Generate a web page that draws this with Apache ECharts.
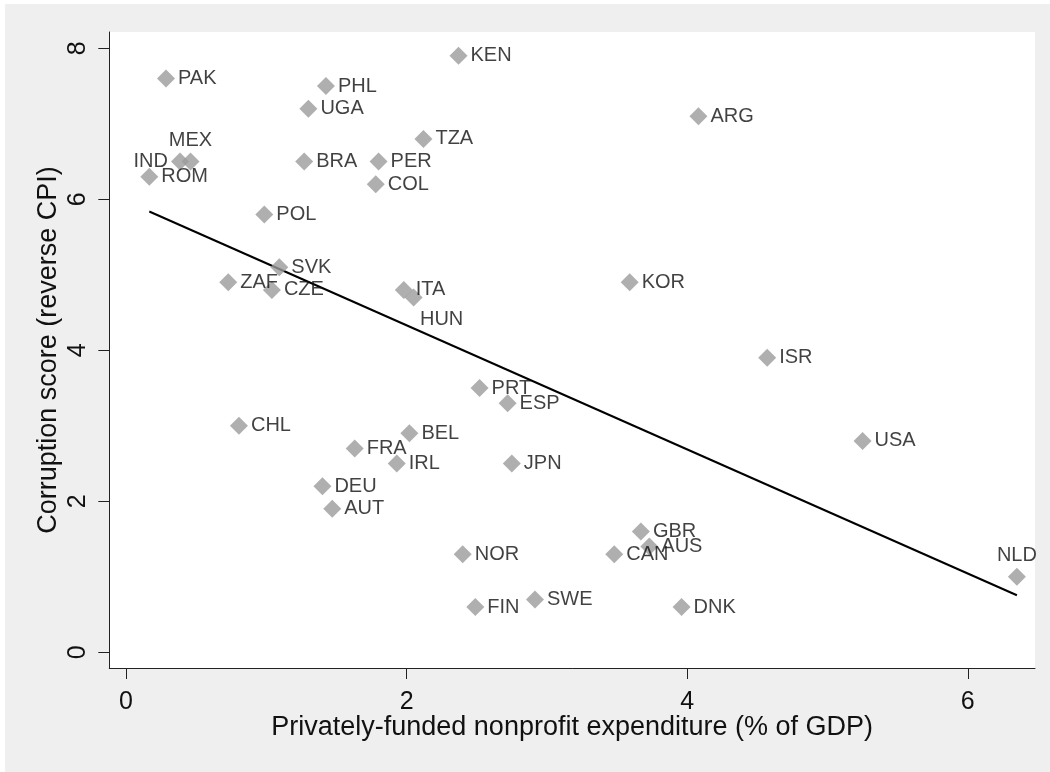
<!DOCTYPE html>
<html><head><meta charset="utf-8">
<script src="https://cdn.jsdelivr.net/npm/echarts@6/dist/echarts.min.js"></script>
<style>html,body{margin:0;padding:0;background:#efefef}#c{width:1050px;height:772px}</style>
</head><body><div id="c"></div>
<script>
const codes = ['PAK','IND','MEX','ROM','PHL','UGA','BRA','POL','PER','COL','KEN','TZA','ARG','SVK','ZAF','CZE','ITA','HUN','KOR','ISR','PRT','ESP','BEL','IRL','JPN','NOR','FIN','SWE','GBR','AUS','CAN','DNK','CHL','FRA','DEU','AUT','USA','NLD'];
const privExp = [0.285,0.385,0.46,0.166,1.425,1.30,1.27,0.986,1.80,1.78,2.37,2.12,4.08,1.093,0.729,1.04,1.98,2.05,3.59,4.57,2.52,2.72,2.02,1.93,2.75,2.40,2.49,2.915,3.67,3.73,3.48,3.96,0.805,1.63,1.40,1.47,5.25,6.35];
const corruption = [7.6,6.5,6.5,6.3,7.5,7.2,6.5,5.8,6.5,6.2,7.9,6.8,7.1,5.1,4.9,4.8,4.8,4.7,4.9,3.9,3.5,3.3,2.9,2.5,2.5,1.3,0.6,0.7,1.6,1.4,1.3,0.6,3.0,2.7,2.2,1.9,2.8,1.0];
const labelPlace = {IND:'left', MEX:'top', HUN:'bottomright', NLD:'top'};
const fitIntercept = 5.975, fitSlope = -0.822;
const xTicks = [0,2,4,6];
const yTicks = [0,2,4,6,8];
const xTitle = 'Privately-funded nonprofit expenditure (% of GDP)';
const yTitle = 'Corruption score (reverse CPI)';

const FONT = 'Liberation Sans, Arial, sans-serif';
const pts = codes.map((c,i)=>{
  const p = labelPlace[c] || 'right';
  const lab = {};
  if (p==='left') { lab.position='left'; lab.distance=3; }
  else if (p==='top') { lab.position='top'; lab.distance=2; }
  else if (p==='bottomright') { lab.position='bottom'; lab.distance=3; lab.offset=[28,0]; }
  return {name:c, value:[privExp[i], corruption[i]], label:lab};
});
const xmin = Math.min(...privExp), xmax = Math.max(...privExp);
const fit = [[xmin, fitIntercept+fitSlope*xmin],[xmax, fitIntercept+fitSlope*xmax]];

const chart = echarts.init(document.getElementById('c'), null, {renderer:'canvas'});
chart.setOption({
  backgroundColor:'#ffffff',
  animation:false,
  textStyle:{fontFamily:FONT},
  graphic:[{type:'rect', z:-10, shape:{x:5,y:4,width:1045,height:768}, style:{fill:'#efefef'}}],
  grid:{left:109.3, top:32, right:15, bottom:104, show:true, backgroundColor:'#ffffff', borderWidth:0},
  xAxis:{type:'value', min:-0.119, max:6.479,
    axisLine:{show:true, onZero:false, lineStyle:{color:'#222', width:1}},
    axisTick:{show:true, length:11, customValues:xTicks, lineStyle:{color:'#222'}},
    axisLabel:{customValues:xTicks, fontSize:25, color:'#111', margin:22, fontFamily:FONT},
    splitLine:{show:false},
    name:xTitle, nameLocation:'middle', nameGap:46, nameMoveOverlap:false, nameTextStyle:{fontSize:27, color:'#111', fontFamily:FONT}},
  yAxis:{type:'value', min:-0.208, max:8.216,
    axisLine:{show:true, onZero:false, lineStyle:{color:'#222', width:1}},
    axisTick:{show:true, length:11, customValues:yTicks, lineStyle:{color:'#222'}},
    axisLabel:{customValues:yTicks, fontSize:25, color:'#111', rotate:90, margin:19, fontFamily:FONT},
    splitLine:{show:false},
    name:yTitle, nameLocation:'middle', nameRotate:90, nameGap:47.5, nameMoveOverlap:false, nameTextStyle:{fontSize:27, color:'#111', fontFamily:FONT}},
  series:[
    {type:'scatter', symbol:'diamond', symbolSize:18, itemStyle:{color:'#9b9b9b'},
     data:pts,
     label:{show:true, position:'right', distance:3, formatter:'{b}', fontSize:20, color:'#111', fontFamily:FONT},
     z:3},
    {type:'line', data:fit, showSymbol:false, lineStyle:{color:'#000', width:2}, z:2, silent:true}
  ]
});
</script></body></html>
